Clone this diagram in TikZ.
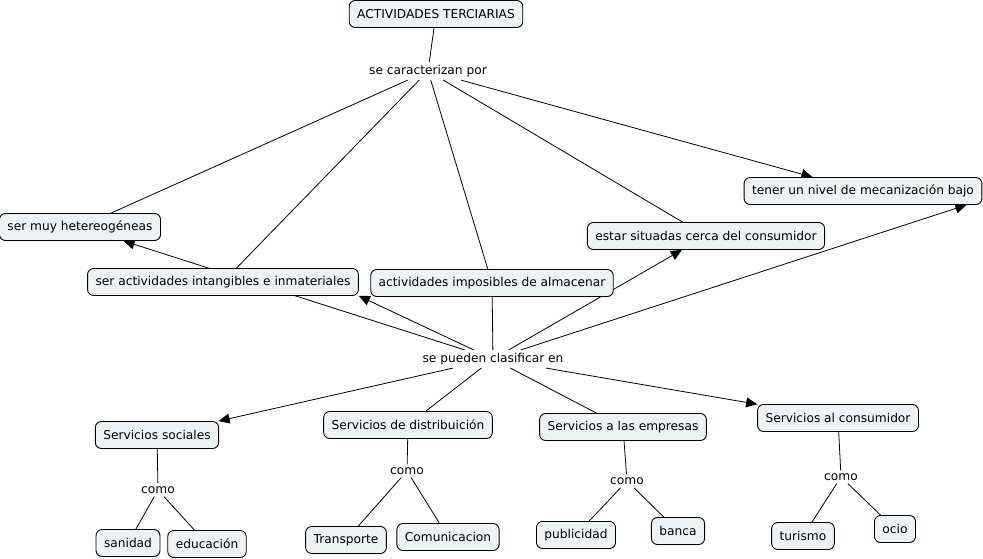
\documentclass[tikz,border=0pt]{standalone}
\usepackage{fontspec}
\setmainfont{DejaVu Sans}
\usetikzlibrary{arrows.meta}
\pgfdeclarelayer{background}
\pgfsetlayers{background,main}
\definecolor{boxfill}{RGB}{237,243,245}
\tikzset{
  concept/.style={draw=black, line width=0.9pt, fill=boxfill, rounded corners=6pt,
    minimum height=27pt, inner xsep=8pt, font=\fontsize{12.2}{14}\selectfont},
  linkphrase/.style={inner sep=3pt, font=\fontsize{12.2}{14}\selectfont},
  conn/.style={draw=black, line width=0.8pt},
  arr/.style={conn, -{Triangle[length=11pt,width=10pt]}}
}
\begin{document}
\begin{tikzpicture}[x=1pt,y=-1pt]
\useasboundingbox (0,0) rectangle (983,559);
\node[concept] (act) at (436,14) {ACTIVIDADES TERCIARIAS};
\node[linkphrase] (car) at (428,71) {se caracterizan por};
\node[concept] (muy) at (80,227) {ser muy hetereogéneas};
\node[concept] (intang) at (223,282) {ser actividades intangibles e inmateriales};
\node[concept] (impos) at (492,283) {actividades imposibles de almacenar};
\node[concept] (estar) at (706,236) {estar situadas cerca del consumidor};
\node[concept] (tener) at (863,191) {tener un nivel de mecanización bajo};
\node[linkphrase] (pueden) at (493,359) {se pueden clasificar en};
\node[concept] (ss) at (157,435) {Servicios sociales};
\node[concept] (sd) at (408,425) {Servicios de distribuición};
\node[concept] (se) at (623,427) {Servicios a las empresas};
\node[concept] (sc) at (838,418) {Servicios al consumidor};
\node[linkphrase] (como1) at (158,490) {como};
\node[linkphrase] (como2) at (407,471) {como};
\node[linkphrase] (como3) at (627,481) {como};
\node[linkphrase] (como4) at (841,477) {como};
\node[concept] (sanidad) at (128,543) {sanidad};
\node[concept] (educ) at (207,544) {educación};
\node[concept] (transp) at (346,540) {Transporte};
\node[concept] (comun) at (448,537) {Comunicacion};
\node[concept] (publi) at (576,535) {publicidad};
\node[concept] (banca) at (678,531) {banca};
\node[concept] (turismo) at (803,536) {turismo};
\node[concept] (ocio) at (895,529) {ocio};
\begin{pgfonlayer}{background}
\draw[conn] (act) -- (car);
\draw[conn] (car) -- (muy);
\draw[conn] (car) -- (intang);
\draw[conn] (car) -- (impos);
\draw[conn] (car) -- (estar);
\draw[arr] (car) -- (tener);
\draw[conn] (impos) -- (pueden);
\draw[arr] (pueden) -- (muy);
\draw[arr] (pueden) -- (intang.south east);
\draw[arr] (pueden) -- (estar);
\draw[arr] (pueden) -- ([xshift=-16pt]tener.south east);
\draw[arr] (pueden) -- (ss);
\draw[conn] (pueden) -- (sd);
\draw[conn] (pueden) -- (se);
\draw[arr] (pueden) -- (sc);
\draw[conn] (ss) -- (como1);
\draw[conn] (como1) -- (sanidad);
\draw[conn] (como1) -- (educ);
\draw[conn] (sd) -- (como2);
\draw[conn] (como2) -- (transp);
\draw[conn] (como2) -- (comun);
\draw[conn] (se) -- (como3);
\draw[conn] (como3) -- (publi);
\draw[conn] (como3) -- (banca);
\draw[conn] (sc) -- (como4);
\draw[conn] (como4) -- (turismo);
\draw[conn] (como4) -- (ocio);
\end{pgfonlayer}
\end{tikzpicture}
\end{document}
